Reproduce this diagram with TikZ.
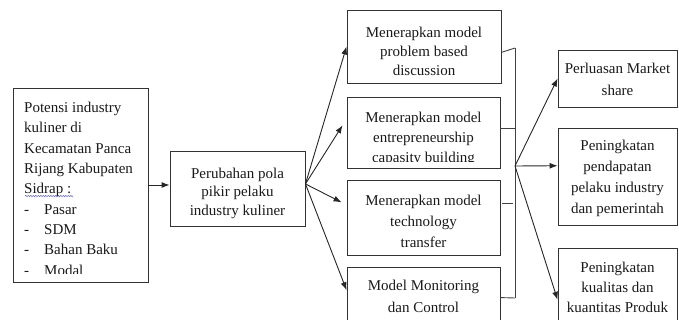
\documentclass[tikz,border=0pt]{standalone}
\usepackage{fontspec}
\setmainfont{Liberation Serif}
\usetikzlibrary{calc,arrows.meta,decorations.pathmorphing}

\begin{document}
\begin{tikzpicture}[x=1pt,y=1pt,yscale=-1,xscale=1,
  box/.style={draw=black!80, line width=0.9pt, inner sep=0pt},
  txt/.style={inner sep=0pt, align=center, font=\fontsize{15}{20}\selectfont, text=black!90},
  arr/.style={draw=black!85, line width=0.9pt, -{Latex[length=8pt,width=6pt]}},
  lin/.style={draw=black!75, line width=0.9pt}]
\useasboundingbox (0,0) rectangle (679,320);
\clip (0,0) rectangle (679,320);

%Shape: Rectangle [pot]
\node[box, minimum width=135pt, minimum height=194pt] (pot) at (80.5,185) {};
\begin{scope}
\clip (pot.north west) rectangle ($(pot.south east)+(0,-9)$);
% Text Node
\node[txt, align=left, anchor=north west, font=\fontsize{15}{20.3}\selectfont] (potText) at (24,102) {Potensi industry\\kuliner di\\Kecamatan Panca\\Rijang Kabupaten\\Sidrap :\\\makebox[20pt][l]{-}Pasar\\\makebox[20pt][l]{-}SDM\\\makebox[20pt][l]{-}Bahan Baku\\\makebox[20pt][l]{-}Modal};
\end{scope}
%Curve Lines: spell check underline
\draw[blue!70, line width=0.5pt, decorate, decoration={snake,amplitude=0.6pt,segment length=2.5pt}] (25,196) -- (73,196);

%Shape: Rectangle [pola]
\node[box, minimum width=135pt, minimum height=75pt] (pola) at (237.5,188.5) {};
% Text Node
\node[txt, font=\fontsize{15}{18.5}\selectfont] (polaText) at (237.5,193) {Perubahan pola\\pikir pelaku\\industry kuliner};

%Shape: Rectangle [m1..m4]
\node[box, minimum width=154pt, minimum height=73pt] (m1) at (424,46.5) {};
\node[box, minimum width=153pt, minimum height=71pt] (m2) at (423.5,132.5) {};
\node[box, minimum width=153pt, minimum height=75pt] (m3) at (423.5,217.5) {};
\node[box, minimum width=153pt, minimum height=73pt] (m4) at (423.5,303.5) {};
% Text Node
\node[txt, font=\fontsize{15}{19}\selectfont] (m1Text) at (424,51) {Menerapkan model\\problem based\\discussion};
\begin{scope}
\clip (m2.north west) rectangle ($(m2.south east)+(0,-7)$);
% Text Node
\node[txt] (m2Text) at (423.5,138.5) {Menerapkan model\\entrepreneurship\\capasity building};
\end{scope}
% Text Node
\node[txt, font=\fontsize{15}{21}\selectfont] (m3Text) at (423.5,221) {Menerapkan model\\technology\\transfer};
% Text Node
\node[txt, font=\fontsize{15}{22}\selectfont] (m4Text) at (423.5,296) {Model Monitoring\\dan Control};

%Shape: Rectangle [rA..rC]
\node[box, minimum width=119pt, minimum height=57pt] (rA) at (617.5,78.5) {};
\node[box, minimum width=119pt, minimum height=97pt] (rB) at (617.5,176.5) {};
\node[box, minimum width=119pt, minimum height=82pt] (rC) at (617.5,289) {};
% Text Node
\node[txt, font=\fontsize{15}{22}\selectfont] (rAText) at (617.5,79) {Perluasan Market\\share};
\node[txt, font=\fontsize{15}{21}\selectfont] (rBText) at (617.5,178) {Peningkatan\\pendapatan\\pelaku industry\\dan pemerintah};
\node[txt] (rCText) at (617.5,287) {Peningkatan\\kualitas dan\\kuantitas Produk};

%Straight Lines
\draw[arr] (pot.east) -- (pot.east -| pola.west);

\coordinate (fan) at ($(pola.north east)!0.44!(pola.south east)$);
\draw[arr] (fan) -- (m1.west);
\draw[arr] (fan) -- ($(m2.north west)!0.4!(m2.south west)+(-4,0)$);
\draw[arr] (fan) -- ($(m3.north west)!0.3!(m3.south west)+(-5,0)$);
\draw[arr] (fan) -- ($(m4.north west)!0.32!(m4.south west)$);

%Bracket
\coordinate (bTop) at (515,48);
\coordinate (bBot) at (515,298);
\coordinate (hub) at (515,166);
\coordinate (t1) at ($(m1.north east)!0.58!(m1.south east)$);
\coordinate (t2) at ($(m2.north east)!0.44!(m2.south east)$);
\coordinate (t3) at ($(m3.north east)!0.31!(m3.south east)$);
\coordinate (t4) at ($(m4.north east)!0.42!(m4.south east)$);
\draw[lin] (bTop) -- (bBot);
\draw[lin] (t1) -- (bTop);
\draw[lin] (t2) -- (t2 -| hub);
\draw[lin] ($(t3)+(2,0)$) -- ($(t3 -| hub)+(-2,0)$);
\draw[lin] (t4) -- (bBot);

\draw[arr] (hub) -- (rA.west);
\draw[arr] (hub) -- ($(rB.north west)!0.39!(rB.south west)$);
\draw[arr] (hub) -- ($(rC.north west)!0.63!(rC.south west)$);

\end{tikzpicture}
\end{document}
